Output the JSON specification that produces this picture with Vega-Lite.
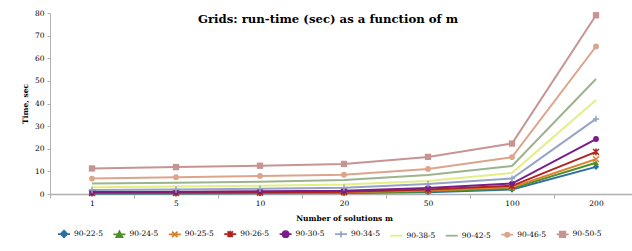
{
  "$schema": "https://vega.github.io/schema/vega-lite/v6.json",
  "width": 588,
  "height": 181,
  "padding": {"left": 21, "top": 9, "right": 0, "bottom": 5},
  "background": "white",
  "title": {
    "text": "Grids: run-time (sec) as a function of m",
    "font": "DejaVu Serif",
    "fontSize": 11.7,
    "fontWeight": "bold",
    "color": "#000000",
    "anchor": "middle",
    "dx": -16,
    "offset": -17
  },
  "config": {
    "view": {"stroke": null},
    "font": "DejaVu Serif"
  },
  "data": {
    "values": [
      {"m": "1", "series": "90-22-5", "t": 0.2}, {"m": "5", "series": "90-22-5", "t": 0.2}, {"m": "10", "series": "90-22-5", "t": 0.3}, {"m": "20", "series": "90-22-5", "t": 0.4}, {"m": "50", "series": "90-22-5", "t": 0.8}, {"m": "100", "series": "90-22-5", "t": 2.0}, {"m": "200", "series": "90-22-5", "t": 12.0},
      {"m": "1", "series": "90-24-5", "t": 0.3}, {"m": "5", "series": "90-24-5", "t": 0.3}, {"m": "10", "series": "90-24-5", "t": 0.4}, {"m": "20", "series": "90-24-5", "t": 0.6}, {"m": "50", "series": "90-24-5", "t": 1.1}, {"m": "100", "series": "90-24-5", "t": 2.5}, {"m": "200", "series": "90-24-5", "t": 13.8},
      {"m": "1", "series": "90-25-5", "t": 0.4}, {"m": "5", "series": "90-25-5", "t": 0.4}, {"m": "10", "series": "90-25-5", "t": 0.5}, {"m": "20", "series": "90-25-5", "t": 0.8}, {"m": "50", "series": "90-25-5", "t": 1.5}, {"m": "100", "series": "90-25-5", "t": 3.0}, {"m": "200", "series": "90-25-5", "t": 15.4},
      {"m": "1", "series": "90-26-5", "t": 0.5}, {"m": "5", "series": "90-26-5", "t": 0.6}, {"m": "10", "series": "90-26-5", "t": 0.7}, {"m": "20", "series": "90-26-5", "t": 1.0}, {"m": "50", "series": "90-26-5", "t": 2.0}, {"m": "100", "series": "90-26-5", "t": 3.6}, {"m": "200", "series": "90-26-5", "t": 18.6},
      {"m": "1", "series": "90-30-5", "t": 0.9}, {"m": "5", "series": "90-30-5", "t": 1.0}, {"m": "10", "series": "90-30-5", "t": 1.2}, {"m": "20", "series": "90-30-5", "t": 1.4}, {"m": "50", "series": "90-30-5", "t": 2.6}, {"m": "100", "series": "90-30-5", "t": 4.6}, {"m": "200", "series": "90-30-5", "t": 24.3},
      {"m": "1", "series": "90-34-5", "t": 1.8}, {"m": "5", "series": "90-34-5", "t": 2.0}, {"m": "10", "series": "90-34-5", "t": 2.3}, {"m": "20", "series": "90-34-5", "t": 2.8}, {"m": "50", "series": "90-34-5", "t": 4.4}, {"m": "100", "series": "90-34-5", "t": 6.8}, {"m": "200", "series": "90-34-5", "t": 33.2},
      {"m": "1", "series": "90-38-5", "t": 3.0}, {"m": "5", "series": "90-38-5", "t": 3.3}, {"m": "10", "series": "90-38-5", "t": 3.6}, {"m": "20", "series": "90-38-5", "t": 4.2}, {"m": "50", "series": "90-38-5", "t": 5.8}, {"m": "100", "series": "90-38-5", "t": 9.3}, {"m": "200", "series": "90-38-5", "t": 41.5},
      {"m": "1", "series": "90-42-5", "t": 4.6}, {"m": "5", "series": "90-42-5", "t": 5.0}, {"m": "10", "series": "90-42-5", "t": 5.4}, {"m": "20", "series": "90-42-5", "t": 6.2}, {"m": "50", "series": "90-42-5", "t": 8.4}, {"m": "100", "series": "90-42-5", "t": 12.4}, {"m": "200", "series": "90-42-5", "t": 50.8},
      {"m": "1", "series": "90-46-5", "t": 6.8}, {"m": "5", "series": "90-46-5", "t": 7.4}, {"m": "10", "series": "90-46-5", "t": 8.0}, {"m": "20", "series": "90-46-5", "t": 8.5}, {"m": "50", "series": "90-46-5", "t": 11.1}, {"m": "100", "series": "90-46-5", "t": 16.3}, {"m": "200", "series": "90-46-5", "t": 65.2},
      {"m": "1", "series": "90-50-5", "t": 11.3}, {"m": "5", "series": "90-50-5", "t": 11.9}, {"m": "10", "series": "90-50-5", "t": 12.5}, {"m": "20", "series": "90-50-5", "t": 13.3}, {"m": "50", "series": "90-50-5", "t": 16.4}, {"m": "100", "series": "90-50-5", "t": 22.3}, {"m": "200", "series": "90-50-5", "t": 79.0}
    ]
  },
  "encoding": {
    "x": {
      "field": "m",
      "type": "ordinal",
      "sort": ["1", "5", "10", "20", "50", "100", "200"],
      "bandPosition": 0.5,
      "scale": {"type": "band", "paddingInner": 0, "paddingOuter": 0},
      "axis": {
        "title": "Number of solutions m",
        "titleFont": "DejaVu Serif",
        "titleFontSize": 7.5,
        "titleFontWeight": "bold",
        "titleColor": "#000000",
        "titlePadding": 8,
        "labelAngle": 0,
        "labelFont": "DejaVu Serif",
        "labelFontSize": 7.5,
        "labelColor": "#000000",
        "labelPadding": 1,
        "tickBand": "extent",
        "tickSize": 4,
        "tickColor": "#b0b0b0",
        "domainColor": "#b0b0b0",
        "domainWidth": 1.5
      }
    },
    "y": {
      "field": "t",
      "type": "quantitative",
      "scale": {"domain": [0, 80], "nice": false},
      "axis": {
        "title": "Time, sec",
        "titleFont": "DejaVu Serif",
        "titleFontSize": 7.5,
        "titleFontWeight": "bold",
        "titleColor": "#000000",
        "titlePadding": 5,
        "values": [0, 10, 20, 30, 40, 50, 60, 70, 80],
        "labelFont": "DejaVu Serif",
        "labelFontSize": 7.5,
        "labelColor": "#000000",
        "labelPadding": 3,
        "tickSize": 3,
        "tickColor": "#b0b0b0",
        "domainColor": "#b0b0b0",
        "grid": false
      }
    },
    "color": {
      "field": "series",
      "type": "nominal",
      "legend": null,
      "scale": {
        "domain": ["90-22-5", "90-24-5", "90-25-5", "90-26-5", "90-30-5", "90-34-5", "90-38-5", "90-42-5", "90-46-5", "90-50-5"],
        "range": ["#2D6FA0", "#4E8F2A", "#D9822B", "#B0231E", "#7A1E87", "#95A3C8", "#E3EE85", "#9BB48D", "#DDA48C", "#C79494"]
      }
    }
  },
  "layer": [
    {
      "mark": {"type": "point", "filled": true, "opacity": 0, "size": 34, "strokeWidth": 1.8},
      "encoding": {
        "color": {
          "field": "series",
          "type": "nominal",
          "legend": {
            "title": null,
            "orient": "none",
            "legendX": 7,
            "legendY": 214,
            "direction": "horizontal",
            "columns": 10,
            "columnPadding": 6.4,
            "labelFont": "DejaVu Serif",
            "labelFontSize": 7.5,
            "labelColor": "#000000",
            "labelOffset": 3,
            "symbolSize": 144,
            "symbolOpacity": 1,
            "symbolStrokeWidth": 1.8
          }
        },
        "shape": {
          "field": "series",
          "type": "nominal",
          "legend": {
            "title": null,
            "orient": "none",
            "legendX": 7,
            "legendY": 214,
            "direction": "horizontal",
            "columns": 10,
            "columnPadding": 6.4,
            "labelFont": "DejaVu Serif",
            "labelFontSize": 7.5,
            "labelColor": "#000000",
            "labelOffset": 3,
            "symbolSize": 144,
            "symbolOpacity": 1,
            "symbolStrokeWidth": 1.8
          },
          "scale": {
            "domain": ["90-22-5", "90-24-5", "90-25-5", "90-26-5", "90-30-5", "90-34-5", "90-38-5", "90-42-5", "90-46-5", "90-50-5"],
            "range": ["M-1,0H1M0,-0.55L0.55,0L0,0.55L-0.55,0Z", "M-1,0H1M0,-0.5L0.5,0.45L-0.5,0.45Z", "M-1,0H1M-0.45,-0.45L0.45,0.45M-0.45,0.45L0.45,-0.45", "M-1,0H1M-0.45,-0.45L0.45,0.45M-0.45,0.45L0.45,-0.45M0,-0.55V0.55", "M-1,0H1M0.5,0A0.5,0.5 0 1,1 -0.5,0A0.5,0.5 0 1,1 0.5,0Z", "M-1,0H1M0,-0.5V0.5", "M-1,0H1", "M-1,0H1", "M-1,0H1M0.35,0A0.35,0.35 0 1,1 -0.35,0A0.35,0.35 0 1,1 0.35,0Z", "M-1,0H1M-0.45,-0.45H0.45V0.45H-0.45Z"]
          }
        },
        "stroke": {
          "field": "series",
          "type": "nominal",
          "legend": {
            "title": null,
            "orient": "none",
            "legendX": 7,
            "legendY": 214,
            "direction": "horizontal",
            "columns": 10,
            "columnPadding": 6.4,
            "labelFont": "DejaVu Serif",
            "labelFontSize": 7.5,
            "labelColor": "#000000",
            "labelOffset": 3,
            "symbolSize": 144,
            "symbolOpacity": 1,
            "symbolStrokeWidth": 1.8
          },
          "scale": {
            "domain": ["90-22-5", "90-24-5", "90-25-5", "90-26-5", "90-30-5", "90-34-5", "90-38-5", "90-42-5", "90-46-5", "90-50-5"],
            "range": ["#2D6FA0", "#4E8F2A", "#D9822B", "#B0231E", "#7A1E87", "#95A3C8", "#E3EE85", "#9BB48D", "#DDA48C", "#C79494"]
          }
        }
      }
    },
    {"mark": {"type": "line", "strokeWidth": 2}},
    {
      "transform": [{"filter": {"field": "series", "equal": "90-22-5"}}],
      "mark": {"type": "point", "shape": "diamond", "filled": true, "opacity": 1, "size": 40}
    },
    {
      "transform": [{"filter": {"field": "series", "equal": "90-24-5"}}],
      "mark": {"type": "point", "shape": "triangle-up", "filled": true, "opacity": 1, "size": 34}
    },
    {
      "transform": [{"filter": {"field": "series", "equal": "90-25-5"}}],
      "mark": {"type": "point", "shape": "M-1,-1L1,1M-1,1L1,-1", "filled": false, "opacity": 1, "size": 34, "strokeWidth": 1.5}
    },
    {
      "transform": [{"filter": {"field": "series", "equal": "90-26-5"}}],
      "mark": {"type": "point", "shape": "M-1,-1L1,1M-1,1L1,-1M0,-1.2V1.2", "filled": false, "opacity": 1, "size": 34, "strokeWidth": 1.5}
    },
    {
      "transform": [{"filter": {"field": "series", "oneOf": ["90-30-5", "90-46-5"]}}],
      "mark": {"type": "point", "shape": "circle", "filled": true, "opacity": 1, "size": 34}
    },
    {
      "transform": [{"filter": {"field": "series", "equal": "90-34-5"}}],
      "mark": {"type": "point", "shape": "M-1.1,0H1.1M0,-1.1V1.1", "filled": false, "opacity": 1, "size": 34, "strokeWidth": 1.5}
    },
    {
      "transform": [{"filter": {"field": "series", "equal": "90-50-5"}}],
      "mark": {"type": "point", "shape": "square", "filled": true, "opacity": 1, "size": 40}
    }
  ]
}
